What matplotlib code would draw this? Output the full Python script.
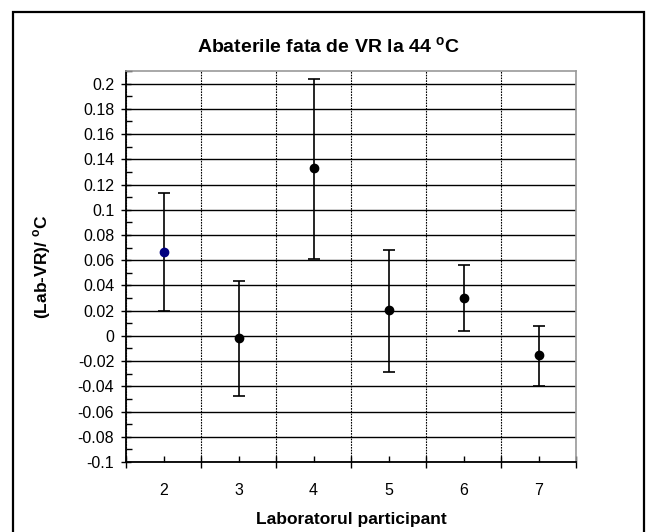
import matplotlib
matplotlib.use('Agg')
import matplotlib.pyplot as plt
from matplotlib.patches import Rectangle

plt.rcParams['font.family'] = ['Liberation Sans', 'DejaVu Sans']
plt.rcParams['mathtext.fontset'] = 'custom'
plt.rcParams['mathtext.rm'] = 'Liberation Sans'
plt.rcParams['mathtext.bf'] = 'Liberation Sans:bold'

# data
labs = [2, 3, 4, 5, 6, 7]
values = [0.0666, -0.0015, 0.133, 0.0205, 0.030, -0.0155]
upper = [0.113, 0.0434, 0.204, 0.068, 0.056, 0.008]
lower = [0.0195, -0.0476, 0.061, -0.029, 0.0042, -0.0398]
colors = ['#000080', 'black', 'black', 'black', 'black', 'black']

fig = plt.figure(figsize=(6.5, 5.32), dpi=100)
ax = fig.add_axes([126/650, 1 - 462/532, 450/650, 391/532])

for x, v, up, lo, c in zip(labs, values, upper, lower, colors):
    ax.errorbar(x, v, yerr=[[v - lo], [up - v]], fmt='o', color=c, ms=6,
                ecolor='black', elinewidth=1.2, capsize=4.5, capthick=1.2,
                zorder=3)

ax.set_xlim(1.5, 7.5)
ax.set_ylim(-0.1, 0.21)

# y axis: major every 0.02, minor every 0.01
yt = [round(-0.1 + 0.02 * i, 2) for i in range(16)]
ax.set_yticks(yt)
ax.set_yticklabels(['0' if t == 0 else ('%g' % t) for t in yt])
ax.set_yticks([round(-0.09 + 0.02 * i, 2) for i in range(16)], minor=True)
ax.tick_params(axis='y', which='major', direction='inout', length=7, width=1,
               labelsize=11.5, pad=5)
ax.tick_params(axis='y', which='minor', direction='in', length=4, width=1)

# x axis: labels at category centres, boundaries as minor ticks
ax.set_xticks(labs)
ax.set_xticklabels([str(l) for l in labs])
ax.set_xticks([l + 0.5 for l in [1] + labs], minor=True)
ax.tick_params(axis='x', which='major', direction='in', length=4, width=1,
               labelsize=11.5, pad=15)
ax.tick_params(axis='x', which='minor', direction='inout', length=8, width=1)

ax.grid(axis='y', which='major', color='black', linewidth=1.0, zorder=1)
ax.grid(axis='x', which='minor', color='black', linewidth=0.8,
        linestyle=(0, (1.5, 1)), zorder=1)
ax.set_axisbelow(True)

for s in ['left', 'bottom']:
    ax.spines[s].set_linewidth(1.3)
    ax.spines[s].set_color('black')
for s in ['top', 'right']:
    ax.spines[s].set_linewidth(1.2)
    ax.spines[s].set_color('#999999')

ax.set_xlabel('Laboratorul participant', fontsize=12.5, fontweight='bold',
              labelpad=10)
ax.set_ylabel(r'(Lab-VR)/ $^{\mathbf{o}}$C', fontsize=12.5, fontweight='bold',
              labelpad=18)

fig.text(328/650, 1 - 47/532, r'Abaterile fata de VR la 44 $^{\mathbf{o}}$C',
         ha='center', va='center', fontsize=14, fontweight='bold')

# outer chart frame (bottom edge falls outside the picture)
fig.patches.append(Rectangle((13/650, -0.02), 631/650, 1 - 12/532 + 0.02,
                             transform=fig.transFigure, fill=False,
                             edgecolor='black', linewidth=1.6))

fig.savefig('out.png', dpi=100)
